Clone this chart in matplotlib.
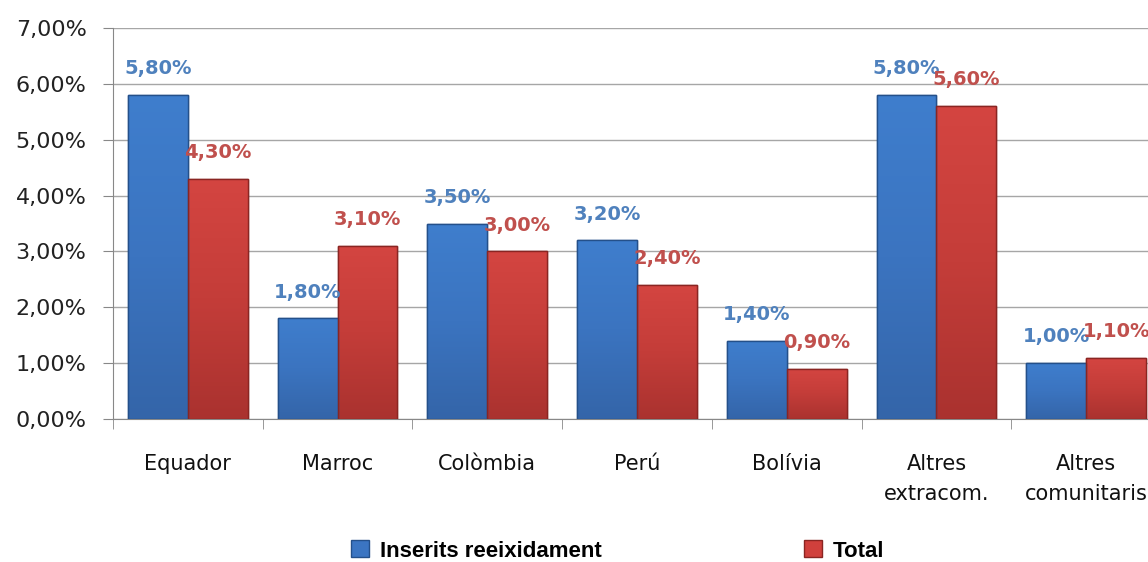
import matplotlib.pyplot as plt
import numpy as np
from matplotlib.colors import LinearSegmentedColormap

categories = ["Equador", "Marroc", "Colòmbia", "Perú", "Bolívia",
              "Altres\nextracom.", "Altres\ncomunitaris"]
inserits = [5.80, 1.80, 3.50, 3.20, 1.40, 5.80, 1.00]
total = [4.30, 3.10, 3.00, 2.40, 0.90, 5.60, 1.10]
series_names = ["Inserits reeixidament", "Total"]

blue = "#3b75c2"
red = "#d0403c"
blue_txt = "#4f81bd"
red_txt = "#c0504d"
blue_cmap = LinearSegmentedColormap.from_list("b", ["#3465a9", "#3b74c0", "#3f7ecd"])
red_cmap = LinearSegmentedColormap.from_list("r", ["#aa322f", "#c43d39", "#d44541"])

fig = plt.figure(figsize=(11.48, 5.62), dpi=100)
ax = fig.add_axes([113 / 1148, 143 / 562, 1048 / 1148, 391 / 562])

x = np.arange(len(categories))
w = 0.4
b1 = ax.bar(x - w / 2, inserits, w, color=blue, edgecolor="#24508a", linewidth=1,
            label=series_names[0], zorder=3)
b2 = ax.bar(x + w / 2, total, w, color=red, edgecolor="#8a2522", linewidth=1,
            label=series_names[1], zorder=3)

# soft vertical gradient inside each bar (stand-in for the 3D bevel look)
grad = np.linspace(0, 1, 256).reshape(-1, 1)
for bars, cmap in [(b1, blue_cmap), (b2, red_cmap)]:
    for bar in bars:
        bx, by = bar.get_x(), bar.get_y()
        bw, bh = bar.get_width(), bar.get_height()
        im = ax.imshow(grad, cmap=cmap, origin="lower", aspect="auto",
                       extent=[bx, bx + bw, by, by + bh], zorder=3.5)
        im.set_clip_path(bar)
    # edges on top of the gradient
    for bar in bars:
        ax.bar(bar.get_x() + bar.get_width() / 2, bar.get_height(), bar.get_width(),
               fill=False, edgecolor=bar.get_edgecolor(), linewidth=1, zorder=3.6)

def pct(v):
    return f"{v:.2f}%".replace(".", ",")

for xi, v in zip(x, inserits):
    ax.text(xi - w / 2, v + 0.47, pct(v), ha="center", va="center",
            fontsize=14, fontweight="bold", color=blue_txt, zorder=4)
for xi, v in zip(x, total):
    ax.text(xi + w / 2, v + 0.47, pct(v), ha="center", va="center",
            fontsize=14, fontweight="bold", color=red_txt, zorder=4)

ax.set_xlim(-0.5, len(categories) - 0.5)
ax.set_ylim(0, 7)
ax.set_yticks(np.arange(0, 8, 1))
ax.set_yticklabels([pct(v) for v in range(8)], fontsize=16, color="#222222")
ax.yaxis.grid(True, color="#a6a6a6", linewidth=1, zorder=0)

ax.set_xticks(x)
ax.set_xticklabels(categories, fontsize=15, color="#111111", linespacing=1.65)
ax.set_xticks(np.arange(-0.5, len(categories), 1), minor=True)
ax.tick_params(axis="x", which="major", length=0, pad=25)
ax.tick_params(axis="x", which="minor", length=7, color="#888888")
ax.tick_params(axis="y", length=7, color="#888888", pad=12)

for s in ["top", "right"]:
    ax.spines[s].set_visible(False)
ax.spines["left"].set_color("#888888")
ax.spines["bottom"].set_color("#888888")

fig.legend(handles=[b1, b2], labels=series_names, loc="lower left",
           bbox_to_anchor=(331 / 1148, -0.035), ncol=2, frameon=False,
           prop={"family": "Liberation Sans", "weight": "bold", "size": 16},
           handlelength=0.8, handleheight=0.8, columnspacing=9.1, handletextpad=0.5)

fig.savefig("out.png", dpi=100)
